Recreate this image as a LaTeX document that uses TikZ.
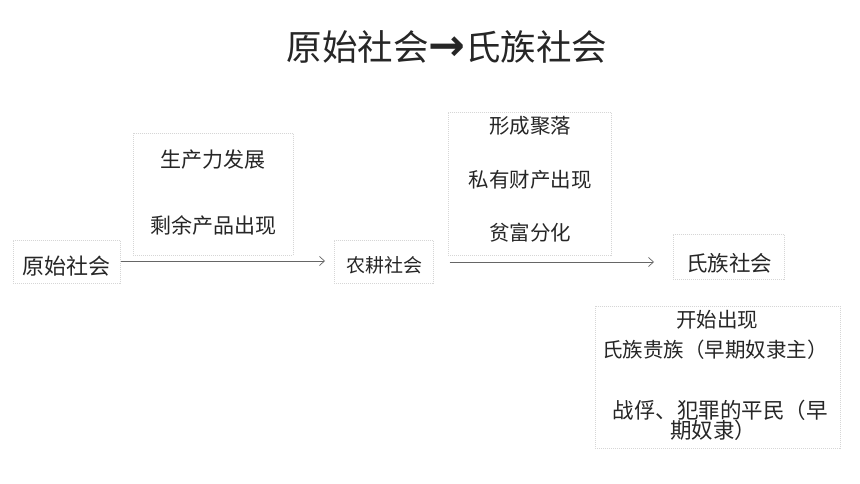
\documentclass[tikz,border=0pt]{standalone}
\usepackage{fontspec}
\setmainfont{Noto Sans CJK SC}
\newfontfamily\cjk{Noto Sans CJK SC}
\newfontfamily\arrowfont{DejaVu Sans}
\usetikzlibrary{arrows.meta}
\begin{document}
\begin{tikzpicture}[x=1pt,y=-1pt,
  box/.style={draw=black!16, line width=0.6pt, dash pattern=on 1pt off 1pt, inner sep=0pt, anchor=north west},
  txt/.style={font=\cjk\fontsize{#1}{#1}\selectfont, inner sep=0pt, text=black!85},
  conn/.style={draw=black!60, line width=0.7pt, -{Straight Barb[length=5pt,width=9pt]}}]
\useasboundingbox (0,0) rectangle (860,484);
\node[txt=35.5] (title) at (447,47) {原始社会{\arrowfont\bfseries\fontsize{44}{44}\selectfont →}氏族社会};
% boxes
\node[box, minimum width=107pt, minimum height=43pt] (b1) at (13,240) {};
\node[box, minimum width=160pt, minimum height=122pt] (b2) at (133,133) {};
\node[box, minimum width=99pt, minimum height=43pt] (b3) at (334,240) {};
\node[box, minimum width=163pt, minimum height=143pt] (b4) at (448,112) {};
\node[box, minimum width=111pt, minimum height=45pt] (b5) at (673,234) {};
\node[box, minimum width=245pt, minimum height=142pt] (b6) at (595,306) {};
% texts
\node[txt=22] (t1) at (67,266) {原始社会};
\node[txt=21] (t2a) at (213,160) {生产力发展};
\node[txt=21] (t2b) at (213,225) {剩余产品出现};
\node[txt=19] (t3) at (384,265) {农耕社会};
\node[txt=20.5] (t4a) at (530,126) {形成聚落};
\node[txt=20.5] (t4b) at (530,180) {私有财产出现};
\node[txt=20.5] (t4c) at (530,233) {贫富分化};
\node[txt=21.5] (t5) at (729,263) {氏族社会};
\node[txt=20.5] (t6a) at (717,320) {开始出现};
\node[txt=20.5] (t6b) at (715,350) {氏族贵族（早期奴隶主）};
\node[txt=21.5] (t6c) at (720,410) {战俘、犯罪的平民（早};
\node[txt=21.5] (t6d) at (713,430) {期奴隶）};
% connectors
\draw[conn, shorten >=9pt] (b1.east |- 0,261) -- (b3.west |- 0,261);
\draw[conn, shorten <=16pt, shorten >=19pt] (b3.east |- 0,262) -- (b5.west |- 0,262);
\end{tikzpicture}
\end{document}
